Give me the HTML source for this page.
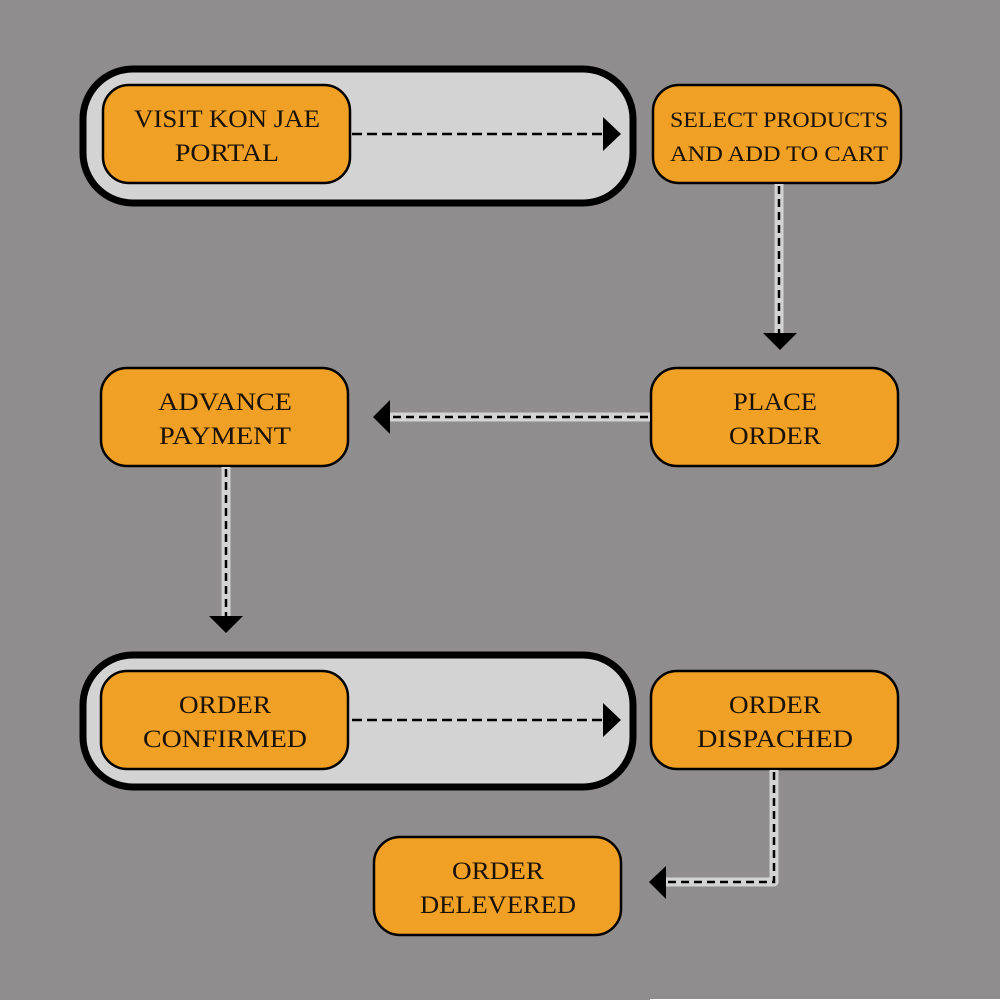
<!DOCTYPE html>
<html><head><meta charset="utf-8"><style>
html,body{margin:0;padding:0;background:#8f8d8e;}
svg{display:block}
text{font-family:"Liberation Serif",serif;font-size:25px;fill:#1a1208;text-anchor:middle;}
</style></head><body>
<svg width="1000" height="1000" viewBox="0 0 1000 1000" xmlns="http://www.w3.org/2000/svg">
<rect width="1000" height="1000" fill="#8f8d8e"/>
<line x1="650" y1="999.5" x2="1000" y2="999.5" stroke="#fff" stroke-width="1"/>
<!-- containers -->
<rect x="83" y="69" width="550" height="134" rx="50" fill="#d3d3d3" stroke="#000" stroke-width="7"/>
<rect x="83" y="655" width="550" height="132" rx="50" fill="#d3d3d3" stroke="#000" stroke-width="7"/>
<g fill="#f0a024" stroke="#000" stroke-width="2.5">
<rect x="103" y="85" width="247" height="98" rx="26"/>
<rect x="653" y="85" width="248" height="98" rx="26"/>
<rect x="651" y="368" width="247" height="98" rx="26"/>
<rect x="101" y="368" width="247" height="98" rx="26"/>
<rect x="101" y="671" width="247" height="98" rx="26"/>
<rect x="651" y="671" width="247" height="98" rx="26"/>
<rect x="374" y="837" width="247" height="98" rx="26"/>
</g>
<!-- dashed arrows inside containers -->
<g stroke="#000" stroke-width="2.5" stroke-dasharray="10,5" fill="none">
<line x1="352" y1="134" x2="604" y2="134"/>
<line x1="352" y1="720" x2="604" y2="720"/>
</g>
<polygon points="603,117 621,134 603,151" fill="#000"/>
<polygon points="603,703 621,720 603,737" fill="#000"/>
<!-- light bands -->
<g stroke="#d3d3d3" stroke-width="9" fill="none">
<line x1="779" y1="184" x2="779" y2="334"/>
<line x1="650" y1="417" x2="390" y2="417"/>
<line x1="226" y1="467" x2="226" y2="616"/>
<polyline points="774,770 774,882 666,882" stroke-linejoin="round"/>
</g>
<g stroke="#000" stroke-width="2.5" stroke-dasharray="8,5" fill="none">
<line x1="779" y1="186" x2="779" y2="334"/>
<line x1="648" y1="417" x2="390" y2="417"/>
<line x1="226" y1="469" x2="226" y2="616"/>
<polyline points="774,772 774,882 666,882"/>
</g>
<polygon points="763,333 797,333 780,350" fill="#000"/>
<polygon points="390,400 390,434 373,417" fill="#000"/>
<polygon points="209,616 243,616 226,633" fill="#000"/>
<polygon points="666,866 666,899 649,882" fill="#000"/>
<!-- labels -->
<text x="227" y="127" textLength="186" lengthAdjust="spacingAndGlyphs">VISIT KON JAE</text>
<text x="227" y="161" textLength="104" lengthAdjust="spacingAndGlyphs">PORTAL</text>
<text x="779" y="127" textLength="218" lengthAdjust="spacingAndGlyphs" style="font-size:22px">SELECT PRODUCTS</text>
<text x="779" y="161" textLength="218" lengthAdjust="spacingAndGlyphs" style="font-size:22px">AND ADD TO CART</text>
<text x="775" y="410" textLength="84" lengthAdjust="spacingAndGlyphs">PLACE</text>
<text x="775" y="444" textLength="92" lengthAdjust="spacingAndGlyphs">ORDER</text>
<text x="225" y="410" textLength="134" lengthAdjust="spacingAndGlyphs">ADVANCE</text>
<text x="225" y="444" textLength="132" lengthAdjust="spacingAndGlyphs">PAYMENT</text>
<text x="225" y="713" textLength="92" lengthAdjust="spacingAndGlyphs">ORDER</text>
<text x="225" y="747" textLength="164" lengthAdjust="spacingAndGlyphs">CONFIRMED</text>
<text x="775" y="713" textLength="92" lengthAdjust="spacingAndGlyphs">ORDER</text>
<text x="775" y="747" textLength="156" lengthAdjust="spacingAndGlyphs">DISPACHED</text>
<text x="498" y="879" textLength="92" lengthAdjust="spacingAndGlyphs">ORDER</text>
<text x="498" y="913" textLength="156" lengthAdjust="spacingAndGlyphs">DELEVERED</text>
</svg>
</body></html>
